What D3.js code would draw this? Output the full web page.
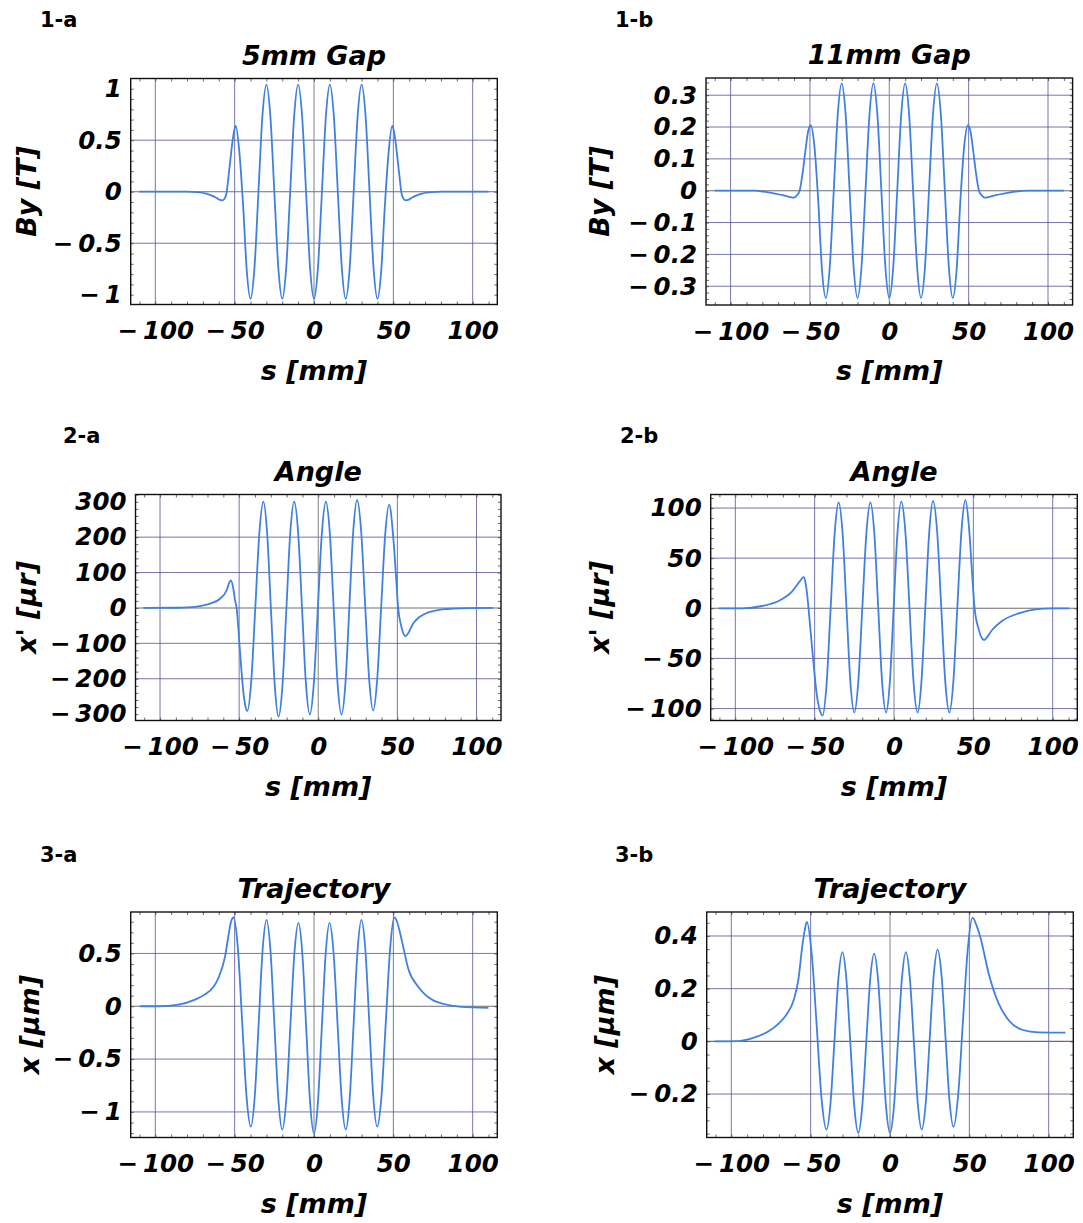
<!DOCTYPE html>
<html><head><meta charset="utf-8">
<script src="https://cdn.jsdelivr.net/npm/d3@7"></script>
<style>body{margin:0;background:#fff}svg{display:block}</style>
</head><body>
<svg id="c" width="1083" height="1223"></svg>
<script>
// ---------- data ----------
const xTickValues = [-100, -50, 0, 50, 100];
const xGridValues = [-100, -50, 50, 100];

// 1-a : By, 5 mm gap
const s1a = [-110,-80,-74,-68,-64,-61,-59.3,-57.8,-56.5,-55.2,-53.5,-51.5,-50.2,-49.3,-47,-44.6,-42.3,
  -40,-37.5,-35,-32.5,-30,-27.5,-25,-22.5,-20,-17.5,-15,-12.5,-10,-7.5,-5,-2.5,0,2.5,5,7.5,10,12.5,15,17.5,20,22.5,25,27.5,30,32.5,35,37.5,40,
  42.3,44.6,47,49.3,50.2,51.5,53.5,55.2,56.5,57.8,59.3,61,64,68,74,80,110];
const by1a = [0,0,-0.004,-0.018,-0.04,-0.065,-0.08,-0.084,-0.07,-0.02,0.2,0.47,0.6,0.64,0.38,-0.15,-0.78,
  -1.04,-0.735,0,0.735,1.04,0.735,0,-0.735,-1.04,-0.735,0,0.735,1.04,0.735,0,-0.735,-1.04,-0.735,0,0.735,1.04,0.735,0,-0.735,-1.04,-0.735,0,0.735,1.04,0.735,0,-0.735,-1.04,
  -0.78,-0.15,0.38,0.64,0.6,0.47,0.2,-0.02,-0.07,-0.084,-0.08,-0.065,-0.04,-0.018,-0.004,0,0];
const yTicks1a = [1, 0.5, 0, -0.5, -1];
const yGrid1a = [0.5, -0.5];

// 1-b : By, 11 mm gap
const s1b = [-110,-85,-78,-72,-67,-63,-60.5,-58.5,-56.5,-54.5,-53,-51.2,-49.6,-47.2,-44.8,-42.4,
  -40,-37.5,-35,-32.5,-30,-27.5,-25,-22.5,-20,-17.5,-15,-12.5,-10,-7.5,-5,-2.5,0,2.5,5,7.5,10,12.5,15,17.5,20,22.5,25,27.5,30,32.5,35,37.5,40,
  42.4,44.8,47.2,49.6,51.2,53,54.5,56.5,58.5,60.5,63,67,72,78,87,110];
const by1b = [0,0,-0.004,-0.009,-0.014,-0.019,-0.022,-0.016,0,0.06,0.12,0.185,0.206,0.14,-0.03,-0.25,
  -0.337,-0.238,0,0.238,0.337,0.238,0,-0.238,-0.337,-0.238,0,0.238,0.337,0.238,0,-0.238,-0.337,-0.238,0,0.238,0.337,0.238,0,-0.238,-0.337,-0.238,0,0.238,0.337,0.238,0,-0.238,-0.337,
  -0.25,-0.03,0.14,0.206,0.185,0.12,0.06,0,-0.016,-0.022,-0.019,-0.014,-0.009,-0.004,0,0];
const yTicks1b = [0.3, 0.2, 0.1, 0, -0.1, -0.2, -0.3];
const yGrid1b = [0.3, 0.2, 0.1, -0.1, -0.2, -0.3];

// 2-a : angle, 5 mm gap
const s2a = [-110.5,-90,-83,-74.7,-68.4,-62.1,-57.9,-56.2,-55.2,-53.7,-52.6,-51.6,-49.5,-47.4,-46,-44.8,
  -42.3,-39.75,-37.2,-34.7,-32.3,-29.9,-27.5,-25.1,-22.6,-20.15,-17.7,-15.2,-12.7,-10.25,-7.8,-5.3,
  -2.8,-0.25,2.3,4.8,7.3,9.75,12.2,14.7,17.2,19.65,22.1,24.6,27.1,29.65,32.2,34.7,37.2,39.75,42.3,44.8,
  47.4,49,50.5,52.6,55.2,57,60,63,66,70,75,80,85,95,110.5];
const xp2a = [0,0.5,1.5,5,12,26,50,72,78,55,22,0,-120,-235,-278,-291,
  -204,4,213,300,211,-3.5,-218,-307,-218,-3.5,211,300,212,-0.5,-213,-301,
  -213,-0.5,212,300,212,-0.5,-213,-301,-212,2,216,305,218,7.5,-203,-290,-205,1,207,292,
  200,100,0,-54,-80,-70,-44,-29,-20,-12,-6.6,-3.5,-2,-0.5,0];
const yTicks2a = [300, 200, 100, 0, -100, -200, -300];
const yGrid2a = [200, 100, -100, -200];

// 2-b : angle, 11 mm gap
const s2b = [-110.5,-95.8,-83.2,-72.7,-64.3,-59,-56.9,-55.8,-54.6,-53.3,-51,-48.5,-46.5,-45,
  -42.5,-39.95,-37.4,-34.9,-32.4,-29.95,-27.5,-25,-22.5,-19.95,-17.4,-14.9,-12.4,-9.95,-7.5,-5,
  -2.6,-0.2,2.2,4.6,7.2,9.75,12.3,14.9,17.3,19.75,22.2,24.6,27.2,29.75,32.3,34.9,37.4,39.95,42.5,45,
  47.3,49.2,50.8,53.4,55.5,56.9,58.5,61.8,68.1,78.6,89,100,110.5];
const xp2b = [0,0,2.3,7.3,16.6,27.6,31,26,12,-10,-50,-88,-103,-107,
  -75.9,-0.7,74.5,105.6,74.9,0.8,-73.3,-104,-73.3,0.8,74.9,105.6,74.9,0.8,-73.3,-104,
  -73.2,1.2,75.5,106.3,75.5,1.2,-73.2,-104,-73.1,1.5,76.1,107,76.1,1.5,-73.1,-104,-73,2,77,108,
  80,35,0,-21,-30,-31.6,-29,-21.6,-12.6,-5,-1,0,0];
const yTicks2b = [100, 50, 0, -50, -100];
const yGrid2b = [100, 50, -50, -100];

// 3-a : trajectory, 5 mm gap
const s3a = [-109.7,-98,-85.5,-75,-69,-63.3,-60.3,-56.1,-54,-52.3,-50.7,-47.98,-45.25,-42.53,-39.8,
  -37.33,-34.85,-32.38,-29.9,-27.43,-24.95,-22.48,-20,-17.45,-14.9,-12.35,-9.8,-7.35,-4.9,-2.45,0,
  2.45,4.9,7.35,9.8,12.35,14.9,17.45,20,22.48,24.95,27.43,29.9,32.38,34.85,37.33,39.8,42.53,45.25,47.98,50.7,
  52.3,55.3,59.5,65.8,74.2,82.6,93,109.9];
const x3a = [0,0,0.016,0.063,0.11,0.185,0.265,0.467,0.66,0.8,0.84,0.55,-0.15,-0.85,-1.14,
  -0.852,-0.16,0.532,0.817,0.526,-0.175,-0.876,-1.167,-0.88,-0.189,0.502,0.789,0.497,-0.208,-0.913,-1.205,
  -0.913,-0.208,0.497,0.789,0.502,-0.189,-0.88,-1.167,-0.876,-0.175,0.526,0.817,0.532,-0.16,-0.852,-1.14,-0.85,-0.15,0.55,0.84,
  0.8,0.625,0.35,0.183,0.063,0.019,-0.006,-0.016];
const yTicks3a = [0.5, 0, -0.5, -1];
const yGrid3a = [0.5, -0.5, -1];

// 3-b : trajectory, 11 mm gap
const s3b = [-110.5,-95.4,-84.9,-76.5,-70.2,-64.9,-60.7,-57.6,-55.5,-53.8,-52.4,-49.3,-46.2,-43.1,-40,
  -37.5,-35,-32.5,-30,-27.5,-25,-22.5,-20,-17.5,-15,-12.5,-10,-7.5,-5,-2.5,0,
  2.5,5,7.5,10,12.5,15,17.5,20,22.5,25,27.5,30,32.5,35,37.5,40,43,46,49,52,
  54.5,56.9,62.2,68.5,74.8,83.2,93.7,110.5];
const x3b = [0,0.001,0.016,0.038,0.067,0.105,0.156,0.24,0.35,0.42,0.453,0.33,0.06,-0.22,-0.335,
  -0.236,0.002,0.24,0.339,0.238,-0.005,-0.247,-0.348,-0.248,-0.008,0.233,0.333,0.233,-0.008,-0.248,-0.348,
  -0.247,-0.005,0.238,0.339,0.24,0.002,-0.236,-0.335,-0.235,0.007,0.248,0.348,0.249,0.012,-0.226,-0.325,-0.2,0.08,0.35,0.47,
  0.44,0.396,0.257,0.143,0.08,0.044,0.034,0.033];
const yTicks3b = [0.4, 0.2, 0, -0.2];
const yGrid3b = [0.4, 0.2, -0.2];

// ---------- layout ----------
const panels = [
  {tag:"1-a", tagPos:[40,27], title:"5mm Gap", ylab:["By","T"], s:s1a, v:by1a, yTicks:yTicks1a, yGrid:yGrid1a,
   yDom:[-1.095,1.099], yMinor:0.1, box:[130.7,497.3,78.5,304.5], ylx:36},
  {tag:"1-b", tagPos:[615,27], title:"11mm Gap", ylab:["By","T"], s:s1b, v:by1b, yTicks:yTicks1b, yGrid:yGrid1b,
   yDom:[-0.359,0.354], yMinor:0.02, box:[706,1072.6,78,305], ylx:609},
  {tag:"2-a", tagPos:[63,443], title:"Angle", ylab:["x'","\u03bcr"], s:s2a, v:xp2a, yTicks:yTicks2a, yGrid:yGrid2a,
   yDom:[-318,320.5], yMinor:20, box:[135.5,501,494.5,720.5], ylx:36},
  {tag:"2-b", tagPos:[620,443], title:"Angle", ylab:["x'","\u03bcr"], s:s2b, v:xp2b, yTicks:yTicks2b, yGrid:yGrid2b,
   yDom:[-111.9,113.5], yMinor:10, box:[710.7,1077.3,494.5,720.5], ylx:609},
  {tag:"3-a", tagPos:[40,862], title:"Trajectory", ylab:["x","\u03bcm"], s:s3a, v:x3a, yTicks:yTicks3a, yGrid:yGrid3a,
   yDom:[-1.242,0.892], yMinor:0.1, box:[130.7,497.3,912,1137.5], ylx:39},
  {tag:"3-b", tagPos:[615,862], title:"Trajectory", ylab:["x","\u03bcm"], s:s3b, v:x3b, yTicks:yTicks3b, yGrid:yGrid3b,
   yDom:[-0.365,0.491], yMinor:0.05, box:[706.7,1073.3,912,1137.5], ylx:614}
];

const FONT = "'DejaVu Sans', Verdana, sans-serif";
const gridColor = "#52529a";
const axisColor = "#8e8e8e";
const curveColor = "#3f80e0";
const fmt = d => d < 0 ? "\u2212\u2009" + String(Math.abs(d)) : String(d);

const svg = d3.select("#c");

panels.forEach(p => {
  const [L, R, T, B] = p.box;
  const x = d3.scaleLinear().domain([-115.5, 115.5]).range([L, R]);
  const y = d3.scaleLinear().domain(p.yDom).range([B, T]);
  const g = svg.append("g");

  // panel tag
  g.append("text").attr("x", p.tagPos[0]).attr("y", p.tagPos[1])
    .attr("font-family", FONT).attr("font-weight", "bold").attr("font-size", 21)
    .text(p.tag);

  // title
  g.append("text").attr("x", (L + R) / 2).attr("y", T - 14)
    .attr("text-anchor", "middle").attr("font-family", FONT)
    .attr("font-weight", "bold").attr("font-style", "oblique").attr("font-size", 27)
    .text(p.title);

  // grid lines
  g.selectAll(".gx").data(xGridValues).enter().append("line")
    .attr("x1", d => x(d)).attr("x2", d => x(d)).attr("y1", T).attr("y2", B)
    .attr("stroke", gridColor).attr("stroke-opacity", 0.8).attr("stroke-width", 1);
  g.selectAll(".gy").data(p.yGrid).enter().append("line")
    .attr("x1", L).attr("x2", R).attr("y1", d => y(d)).attr("y2", d => y(d))
    .attr("stroke", gridColor).attr("stroke-opacity", 0.8).attr("stroke-width", 1);
  // zero axes
  g.append("line").attr("x1", x(0)).attr("x2", x(0)).attr("y1", T).attr("y2", B)
    .attr("stroke", axisColor).attr("stroke-width", 1.1);
  g.append("line").attr("x1", L).attr("x2", R).attr("y1", y(0)).attr("y2", y(0))
    .attr("stroke", "#6e6e6e").attr("stroke-width", 1.1);

  // frame ticks (inward) using axes
  const minorX = d3.range(-110, 111, 10);
  const minorY = d3.range(Math.ceil(p.yDom[0] / p.yMinor), Math.floor(p.yDom[1] / p.yMinor) + 1).map(k => +(k * p.yMinor).toFixed(4));
  const tickStyle = sel => { sel.select(".domain").remove(); sel.selectAll("text").remove();
    sel.selectAll("line").attr("stroke", "#444").attr("stroke-width", 0.8); };
  g.append("g").attr("transform", `translate(0,${B})`)
    .call(d3.axisBottom(x).tickValues(minorX).tickSizeInner(-3).tickSizeOuter(0)).call(tickStyle);
  g.append("g").attr("transform", `translate(0,${T})`)
    .call(d3.axisTop(x).tickValues(minorX).tickSizeInner(-3).tickSizeOuter(0)).call(tickStyle);
  g.append("g").attr("transform", `translate(${L},0)`)
    .call(d3.axisLeft(y).tickValues(minorY).tickSizeInner(-3).tickSizeOuter(0)).call(tickStyle);
  g.append("g").attr("transform", `translate(${R},0)`)
    .call(d3.axisRight(y).tickValues(minorY).tickSizeInner(-3).tickSizeOuter(0)).call(tickStyle);

  // curve
  const line = d3.line().x((d, i) => x(p.s[i])).y(d => y(d)).curve(d3.curveMonotoneX);
  g.append("path").attr("d", line(p.v)).attr("fill", "none")
    .attr("stroke", curveColor).attr("stroke-width", 1.8).attr("stroke-linejoin", "round");

  // frame
  g.append("rect").attr("x", L).attr("y", T).attr("width", R - L).attr("height", B - T)
    .attr("fill", "none").attr("stroke", "#111").attr("stroke-width", 1.4);

  // tick labels via axes
  const labStyle = sel => { sel.select(".domain").remove(); sel.selectAll("line").remove();
    sel.selectAll("text").attr("font-family", FONT).attr("font-weight", "bold")
      .attr("font-style", "oblique").attr("font-size", 24.5).attr("fill", "#000"); };
  g.append("g").attr("transform", `translate(0,${B})`)
    .call(d3.axisBottom(x).tickValues(xTickValues).tickFormat(fmt).tickSize(0).tickPadding(17.5))
    .call(labStyle);
  g.append("g").attr("transform", `translate(${L},0)`)
    .call(d3.axisLeft(y).tickValues(p.yTicks).tickFormat(fmt).tickSize(0).tickPadding(9))
    .call(labStyle);

  // x label
  g.append("text").attr("x", (L + R) / 2).attr("y", B + 75)
    .attr("text-anchor", "middle").attr("font-family", FONT).attr("font-size", 27)
    .attr("font-weight", "bold").attr("font-style", "oblique")
    .text("s [mm]");

  // y label (rotated)
  g.append("text").attr("transform", `translate(${p.ylx},${(T + B) / 2}) rotate(-90)`)
    .attr("text-anchor", "middle").attr("font-family", FONT).attr("font-size", 27)
    .attr("font-weight", "bold").attr("font-style", "oblique")
    .text(p.ylab[0] + " [" + p.ylab[1] + "]");
});
</script>
</body></html>
